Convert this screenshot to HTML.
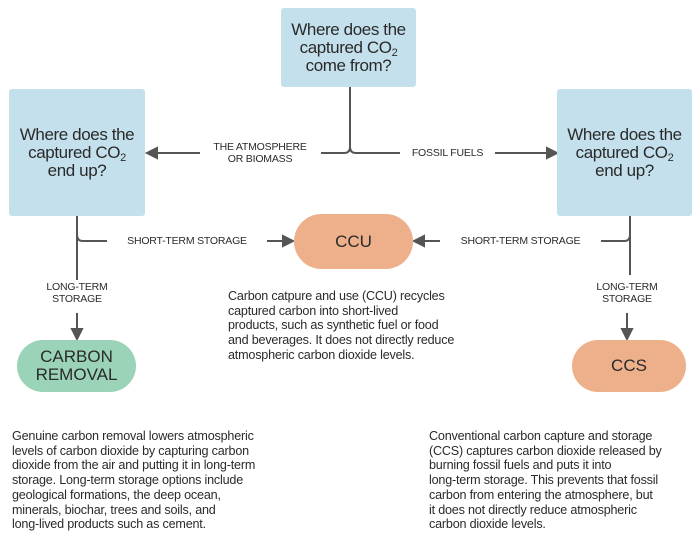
<!DOCTYPE html>
<html><head><meta charset="utf-8"><style>
body{margin:0;width:700px;height:544px;background:#fff;font-family:"Liberation Sans",sans-serif;color:#2a2a2a;position:relative;overflow:hidden}
.b{position:absolute;background:#c4e0ec;border-radius:3px;display:flex;align-items:center;justify-content:center;text-align:center;font-size:17px;line-height:18px;letter-spacing:-0.4px}
.p{position:absolute;display:flex;align-items:center;justify-content:center;text-align:center;font-size:17px;line-height:18px;border-radius:28px}
.l{position:absolute;font-size:10.5px;line-height:12px;text-align:center;letter-spacing:-0.2px}
.t{position:absolute;font-size:12.6px;line-height:14.7px;letter-spacing:-0.2px;white-space:nowrap}
sub{font-size:11px;vertical-align:-3px;line-height:0}
svg{position:absolute;left:0;top:0}
</style></head><body>
<svg width="700" height="544" fill="none" stroke="#555" stroke-width="2">
<path d="M350 87 V147 Q350 153 344 153 H321 M350 147 Q350 153 356 153 H400"/>
<path d="M200 153 H156"/><path d="M147 153 L157 148 L157 158Z" fill="#555"/>
<path d="M495 153 H548"/><path d="M557 153 L547 148 L547 158Z" fill="#555"/>
<path d="M77 216 V280 M77 235 Q77 241 83 241 H107"/>
<path d="M267 241 H284"/><path d="M293 241 L283 236 L283 246Z" fill="#555"/>
<path d="M630 216 V275 M630 235 Q630 241 624 241 H601"/>
<path d="M440 241 H423"/><path d="M414 241 L424 236 L424 246Z" fill="#555"/>
<path d="M77 313 V330"/><path d="M77 339 L72 329 L82 329Z" fill="#555"/>
<path d="M627 313 V330"/><path d="M627 339 L622 329 L632 329Z" fill="#555"/>
</svg>
<div class="b" style="left:281px;top:8px;width:135px;height:79px"><span>Where does the<br>captured CO<sub>2</sub><br>come from?</span></div>
<div class="b" style="left:9px;top:89px;width:136px;height:127px"><span>Where does the<br>captured CO<sub>2</sub><br>end up?</span></div>
<div class="b" style="left:557px;top:89px;width:135px;height:127px"><span>Where does the<br>captured CO<sub>2</sub><br>end up?</span></div>
<div class="l" style="left:200px;top:141px;width:120px">THE ATMOSPHERE<br>OR BIOMASS</div>
<div class="l" style="left:400px;top:147px;width:95px">FOSSIL FUELS</div>
<div class="p" style="left:294px;top:214px;width:119px;height:55px;background:#edb08a"><span>CCU</span></div>
<div class="l" style="left:107px;top:235px;width:160px">SHORT-TERM STORAGE</div>
<div class="l" style="left:440px;top:235px;width:161px">SHORT-TERM STORAGE</div>
<div class="l" style="left:27px;top:281px;width:100px">LONG-TERM<br>STORAGE</div>
<div class="l" style="left:577px;top:281px;width:100px">LONG-TERM<br>STORAGE</div>
<div class="p" style="left:17px;top:340px;width:119px;height:52px;background:#9ad3b8"><span>CARBON<br>REMOVAL</span></div>
<div class="p" style="left:572px;top:340px;width:114px;height:52px;background:#edb08a"><span>CCS</span></div>
<div class="t" style="left:228px;top:289px">Carbon catpure and use (CCU) recycles<br>captured carbon into short-lived<br>products, such as synthetic fuel or food<br>and beverages. It does not directly reduce<br>atmospheric carbon dioxide levels.</div>
<div class="t" style="left:12px;top:429px">Genuine carbon removal lowers atmospheric<br>levels of carbon dioxide by capturing carbon<br>dioxide from the air and putting it in long-term<br>storage. Long-term storage options include<br>geological formations, the deep ocean,<br>minerals, biochar, trees and soils, and<br>long-lived products such as cement.</div>
<div class="t" style="left:429px;top:429px">Conventional carbon capture and storage<br>(CCS) captures carbon dioxide released by<br>burning fossil fuels and puts it into<br>long-term storage. This prevents that fossil<br>carbon from entering the atmosphere, but<br>it does not directly reduce atmospheric<br>carbon dioxide levels.</div>
</body></html>
